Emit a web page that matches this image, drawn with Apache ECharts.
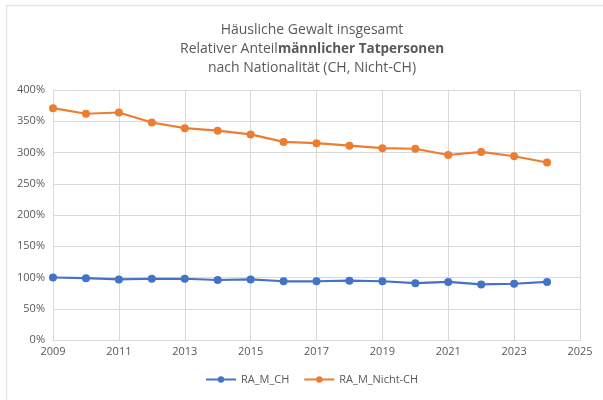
<!DOCTYPE html>
<html>
<head>
<meta charset="utf-8">
<script src="https://cdn.jsdelivr.net/npm/echarts@6/dist/echarts.min.js"></script>
<style>
  html, body { margin: 0; padding: 0; background: #fff; }
  #chart { width: 603px; height: 400px; }
</style>
</head>
<body>
<div id="chart"></div>
<script>
// Jahre und relative Anteile (%)
var years = [2009, 2010, 2011, 2012, 2013, 2014, 2015, 2016, 2017, 2018, 2019, 2020, 2021, 2022, 2023, 2024];
var raMCH = [100, 99, 97, 98, 98, 96, 97, 94, 94, 95, 94, 91, 93, 89, 90, 93];
var raMNichtCH = [371, 362, 364, 348, 339, 335, 329, 317, 315, 311, 307, 306, 296, 301, 294, 284];
var seriesNames = ["RA_M_CH", "RA_M_Nicht-CH"];
var colorList = ["#4472C4", "#ED7D31"];

function pairs(values) {
  return values.map(function (v, i) {
    return [years[i], v];
  });
}

var chart = echarts.init(document.getElementById("chart"));
var textColor = "#595959";
var font = "'Open Sans', 'Liberation Sans', sans-serif";

chart.setOption({
  animation: false,
  color: colorList,
  textStyle: { fontFamily: font },
  title: {
    left: 307,
    textAlign: "center",
    top: 16,
    text: "Häusliche Gewalt insgesamt\n{n|Relativer Anteil}{b|männlicher Tatpersonen}\nnach Nationalität (CH, Nicht-CH)",
    textStyle: {
      color: textColor,
      fontSize: 14,
      fontWeight: "normal",
      lineHeight: 19,
      fontFamily: font,
      rich: {
        n: { color: textColor, fontSize: 14, lineHeight: 19, fontFamily: font },
        b: { color: textColor, fontSize: 13.5, lineHeight: 19, fontWeight: "bold", fontFamily: font },
      },
    },
  },
  graphic: [
    {
      type: "line",
      shape: { x1: 6, y1: 5.5, x2: 603, y2: 5.5 },
      style: { stroke: "#e6e6e6", lineWidth: 1.5 },
    },
    {
      type: "line",
      shape: { x1: 6.5, y1: 5, x2: 6.5, y2: 400 },
      style: { stroke: "#e6e6e6", lineWidth: 1.5 },
    },
  ],
  legend: {
    bottom: 10,
    left: 200,
    itemWidth: 30,
    itemHeight: 8,
    itemGap: 14,
    data: seriesNames,
    textStyle: { color: textColor, fontSize: 11, fontFamily: font },
  },
  grid: {
    left: 53,
    right: 23,
    top: 90,
    bottom: 60,
    containLabel: false,
  },
  xAxis: {
    type: "value",
    min: 2009,
    max: 2025,
    interval: 2,
    axisLine: { show: true, lineStyle: { color: "#d9d9d9" } },
    axisTick: { show: false },
    splitLine: { show: true, lineStyle: { color: "#d9d9d9" } },
    axisLabel: {
      color: textColor,
      fontSize: 11,
      margin: 6,
      formatter: function (v) { return String(v); },
    },
  },
  yAxis: {
    type: "value",
    min: 0,
    max: 400,
    interval: 50,
    axisLine: { show: true, lineStyle: { color: "#d9d9d9" } },
    axisTick: { show: false },
    splitLine: { show: true, lineStyle: { color: "#d9d9d9" } },
    axisLabel: {
      color: textColor,
      fontSize: 11,
      margin: 8,
      formatter: "{value}%",
    },
  },
  series: [
    {
      name: seriesNames[0],
      type: "line",
      data: pairs(raMCH),
      symbol: "circle",
      symbolSize: 8,
      lineStyle: { width: 2.25, color: colorList[0] },
      itemStyle: { color: colorList[0] },
    },
    {
      name: seriesNames[1],
      type: "line",
      data: pairs(raMNichtCH),
      symbol: "circle",
      symbolSize: 8,
      lineStyle: { width: 2.25, color: colorList[1] },
      itemStyle: { color: colorList[1] },
    },
  ],
});
</script>
</body>
</html>
